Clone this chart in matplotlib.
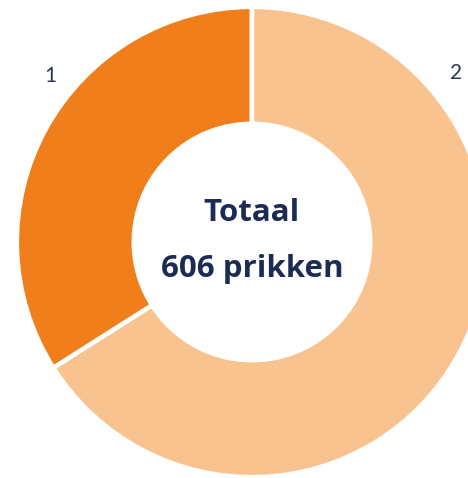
import matplotlib
matplotlib.use("Agg")
import matplotlib.pyplot as plt

labels = ["1", "2"]
values = [206, 400]
colors = ["#F07F1B", "#F9C38F"]
total_text = ["Totaal", "606 prikken"]

navy = "#1C2B54"

fig = plt.figure(figsize=(4.68, 4.78), dpi=100)
ax = fig.add_axes([0, 0, 1, 1])

# donut: slice 1 runs counter-clockwise from 12 o'clock
ax.pie(values, colors=colors, startangle=90, counterclock=True,
       radius=1.005, wedgeprops=dict(width=0.5, edgecolor="white", linewidth=3.3))

# pixel-matched limits (radius 1 ~ 234 px, centre at 252, 242)
ax.set_xlim(-252 / 234, (468 - 252) / 234)
ax.set_ylim(-(478 - 242) / 234, 242 / 234)
ax.axis("off")

ax.text(0.0, 0.125, total_text[0], ha="center", va="center", fontsize=22.5,
        fontweight="bold", family="Open Sans", color=navy)
ax.text(0.0, -0.115, total_text[1], ha="center", va="center", fontsize=22.5,
        fontweight="bold", family="Open Sans", color=navy)

ax.text((50 - 252) / 234, (242 - 76) / 234, labels[0], ha="center", va="center",
        fontsize=15, family="Lato", color="#2A3858")
ax.text((456 - 252) / 234, (242 - 73) / 234, labels[1], ha="center", va="center",
        fontsize=15, family="Lato", color="#2A3858")

fig.savefig("out.png", dpi=100)
